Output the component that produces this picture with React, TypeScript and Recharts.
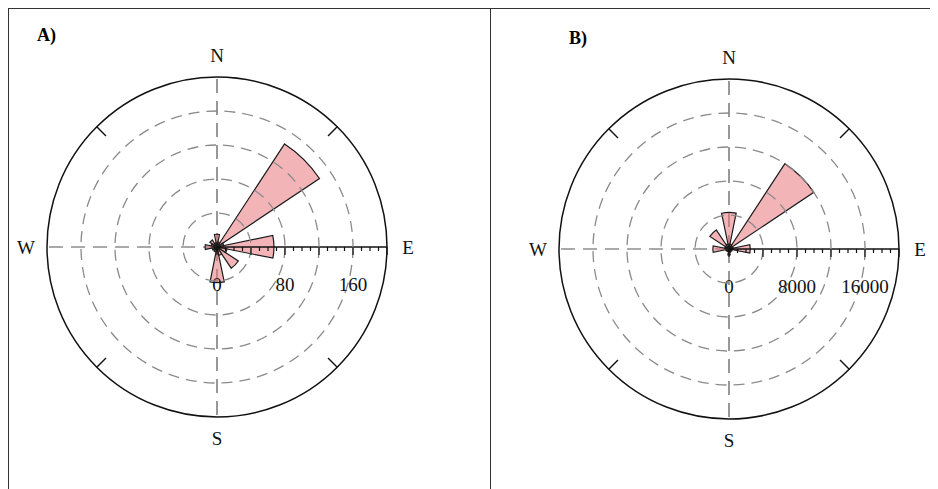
import React from 'react'
import { RadialBarChart, RadialBar, PolarAngleAxis, PolarRadiusAxis, PolarGrid } from 'recharts'

// 16 compass sectors, clockwise from north
const directions = ['N', 'NNE', 'NE', 'ENE', 'E', 'ESE', 'SE', 'SSE', 'S', 'SSW', 'SW', 'WSW', 'W', 'WNW', 'NW', 'NNW']

// panel A counts
const countsA = [15, 6, 145, 8, 67, 12, 30, 10, 42, 6, 5, 6, 14, 7, 10, 5]
// panel B counts
const countsB = [4300, 600, 12000, 500, 2500, 400, 300, 400, 700, 300, 300, 400, 1900, 500, 2700, 600]

const ringTicksA = [0, 40, 80, 120, 160, 200]
const labelTicksA = [0, 80, 160]
const ringTicksB = [0, 4000, 8000, 12000, 16000, 20000]
const labelTicksB = [0, 8000, 16000]

const cardinals = ['N', 'E', 'S', 'W']
const diagonals = ['NE', 'SE', 'SW', 'NW']

const SERIF = '"Liberation Serif", "Times New Roman", serif'
// recharts puts category ticks at the band edge, shift to the band centre
const HALF_SECTOR = 360 / directions.length / 2

const minorTicks = (max: number, step: number) => {
  const out: number[] = []
  for (let v = 0; v <= max; v += step) out.push(v)
  return out
}

function CompassTick(props: any) {
  const { x, y, cx, cy, payload } = props
  const deg = payload.coordinate + HALF_SECTOR
  const a = (deg * Math.PI) / 180
  const r = Math.hypot(x - cx, y - cy)
  const px = cx + r * Math.cos(a)
  const py = cy - r * Math.sin(a)
  const dir = payload.value
  if (cardinals.includes(dir)) {
    return (
      <text
        x={px + 21 * Math.cos(a)}
        y={py - 21 * Math.sin(a)}
        textAnchor="middle"
        dominantBaseline="central"
        fontFamily={SERIF}
        fontSize={19}
        fill="#111"
      >
        {dir}
      </text>
    )
  }
  if (diagonals.includes(dir)) {
    return (
      <line
        x1={px}
        y1={py}
        x2={px - 13 * Math.cos(a)}
        y2={py + 13 * Math.sin(a)}
        stroke="#111"
        strokeWidth={1.4}
      />
    )
  }
  return null
}

function ScaleTick(props: any) {
  const { x, y, cx, payload, labels, major, max } = props
  const v = payload.value
  const long = v % major === 0
  const ring = long && v > 0 && v < max
  return (
    <g>
      {ring && (
        <circle cx={cx} cy={y} r={x - cx} fill="none" stroke="#8a8a8a" strokeWidth={1.3} strokeDasharray="11 7" />
      )}
      <line x1={x} y1={y} x2={x} y2={y + (long ? 8 : 4)} stroke="#111" strokeWidth={1.2} />
      {labels.includes(v) && (
        <text x={x} y={y + 37} textAnchor="middle" dominantBaseline="central" fontFamily={SERIF} fontSize={19} fill="#111">
          {v}
        </text>
      )}
    </g>
  )
}

function Rose({ counts, ringTicks, labelTicks, step, width, cx, cy }: any) {
  const data = directions.map((dir, i) => ({ dir, count: counts[i] }))
  const max = ringTicks[ringTicks.length - 1]
  const major = ringTicks[1]
  const ticks = minorTicks(max, step)
  return (
    <RadialBarChart
      width={width}
      height={481}
      data={data}
      cx={cx}
      cy={cy}
      innerRadius={0}
      outerRadius={170}
      startAngle={90 - HALF_SECTOR}
      endAngle={-270 - HALF_SECTOR}
      layout="centric"
      barCategoryGap={0}
      margin={{ top: 0, right: 0, bottom: 0, left: 0 }}
    >
      <PolarGrid gridType="circle" polarAngles={[90, 180, 270]} polarRadius={[]} stroke="#555" strokeWidth={1.2} strokeDasharray="14 8" />
      <PolarAngleAxis
        type="category"
        dataKey="dir"
        axisLineType="circle"
        axisLine={{ stroke: '#111', strokeWidth: 1.5 }}
        tickLine={false}
        tickSize={0.01}
        tick={<CompassTick />}
      />
      <PolarRadiusAxis
        type="number"
        angle={0}
        domain={[0, max]}
        ticks={ticks}
        tickCount={ticks.length}
        axisLine={{ stroke: '#111', strokeWidth: 1.5 }}
        tickLine={false}
        tick={(p: any) => <ScaleTick {...p} labels={labelTicks} major={major} max={max} />}
      />
      <RadialBar
        dataKey="count"
        fill="#e9777e"
        fillOpacity={0.55}
        stroke="#1a1a1a"
        strokeWidth={1.2}
        isAnimationActive={false}
      />
    </RadialBarChart>
  )
}

export default function App() {
  return (
    <div
      style={{
        position: 'relative',
        width: 930,
        height: 481,
        borderTop: '1.5px solid #333',
        borderLeft: '1.5px solid #333',
        fontFamily: SERIF,
      }}
    >
      <div style={{ position: 'absolute', left: 481, top: 0, height: 481, borderLeft: '1.5px solid #333' }} />
      <div style={{ position: 'absolute', left: 0, top: 0 }}>
        <Rose counts={countsA} ringTicks={ringTicksA} labelTicks={labelTicksA} step={10} width={481} cx={208} cy={238} />
      </div>
      <div style={{ position: 'absolute', left: 482, top: 0 }}>
        <Rose counts={countsB} ringTicks={ringTicksB} labelTicks={labelTicksB} step={1000} width={448} cx={238} cy={240} />
      </div>
      <span style={{ position: 'absolute', left: 28, top: 16, fontWeight: 'bold', fontSize: 18 }}>A)</span>
      <span style={{ position: 'absolute', left: 560, top: 19, fontWeight: 'bold', fontSize: 18 }}>B)</span>
    </div>
  )
}
